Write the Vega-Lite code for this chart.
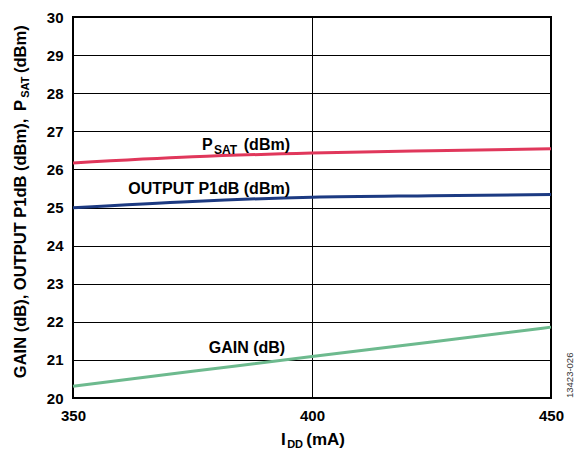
{
  "$schema": "https://vega.github.io/schema/vega-lite/v6.json",
  "width": 478,
  "height": 381,
  "autosize": {"type": "none"},
  "padding": {"left": 73, "top": 17, "right": 27, "bottom": 52},
  "background": "white",
  "config": {
    "view": {"stroke": "black", "strokeWidth": 2},
    "font": "Liberation Sans",
    "axis": {
      "labelFont": "Liberation Sans",
      "labelFontWeight": "bold",
      "labelFontSize": 15,
      "labelColor": "black",
      "domain": false,
      "ticks": false,
      "grid": true,
      "gridColor": "black",
      "gridOpacity": 1,
      "gridWidth": 1,
      "labelFlush": false,
      "labelPadding": 10,
      "title": null
    },
    "text": {"font": "Liberation Sans", "color": "black"}
  },
  "datasets": {
    "curves": [
      {"idd": 350, "value": 26.17, "series": "PSAT"},
      {"idd": 375, "value": 26.33, "series": "PSAT"},
      {"idd": 400, "value": 26.43, "series": "PSAT"},
      {"idd": 425, "value": 26.49, "series": "PSAT"},
      {"idd": 450, "value": 26.54, "series": "PSAT"},
      {"idd": 350, "value": 24.99, "series": "P1dB"},
      {"idd": 375, "value": 25.16, "series": "P1dB"},
      {"idd": 400, "value": 25.27, "series": "P1dB"},
      {"idd": 425, "value": 25.31, "series": "P1dB"},
      {"idd": 450, "value": 25.34, "series": "P1dB"},
      {"idd": 350, "value": 20.31, "series": "GAIN"},
      {"idd": 375, "value": 20.70, "series": "GAIN"},
      {"idd": 400, "value": 21.09, "series": "GAIN"},
      {"idd": 425, "value": 21.47, "series": "GAIN"},
      {"idd": 450, "value": 21.86, "series": "GAIN"}
    ],
    "labels": [
      {"role": "in-left", "text": "P", "x": 377.0, "y": 26.51},
      {"role": "in-sub", "text": "SAT", "x": 379.5, "y": 26.51},
      {"role": "in-right", "text": "(dBm)", "x": 395.4, "y": 26.51},
      {"role": "in-right", "text": "OUTPUT P1dB (dBm)", "x": 395.4, "y": 25.35},
      {"role": "in-left", "text": "GAIN (dB)", "x": 378.4, "y": 21.18},
      {"role": "xt-main", "text": "I", "x": 393.5, "y": 18.77},
      {"role": "xt-sub", "text": "DD", "x": 394.8, "y": 18.77},
      {"role": "xt-main", "text": "(mA)", "x": 398.8, "y": 18.77},
      {"role": "yt-main", "text": "GAIN (dB), OUTPUT P1dB (dBm),", "x": 340.2, "y": 20.52},
      {"role": "yt-main", "text": "P", "x": 340.2, "y": 27.53},
      {"role": "yt-sub", "text": "SAT", "x": 340.2, "y": 27.88},
      {"role": "yt-main", "text": "(dBm)", "x": 340.2, "y": 28.53},
      {"role": "note", "text": "13423-026", "x": 454.6, "y": 20.0}
    ]
  },
  "encoding": {
    "x": {"type": "quantitative", "scale": {"domain": [350, 450], "nice": false, "zero": false},
          "axis": {"values": [350, 400, 450]}},
    "y": {"type": "quantitative", "scale": {"domain": [20, 30], "nice": false, "zero": false},
          "axis": {"values": [20, 21, 22, 23, 24, 25, 26, 27, 28, 29, 30]}}
  },
  "layer": [
    {
      "data": {"name": "curves"},
      "mark": {"type": "line", "strokeWidth": 3, "interpolate": "monotone"},
      "encoding": {
        "x": {"field": "idd", "type": "quantitative"},
        "y": {"field": "value", "type": "quantitative"},
        "color": {"field": "series", "type": "nominal",
                  "scale": {"domain": ["PSAT", "P1dB", "GAIN"], "range": ["#E0375B", "#1C3A82", "#6DBA8E"]},
                  "legend": null}
      }
    },
    {
      "data": {"name": "labels"},
      "transform": [{"filter": "datum.role == 'in-left'"}],
      "mark": {"type": "text", "align": "left", "baseline": "alphabetic", "fontSize": 16, "fontWeight": "bold"},
      "encoding": {"x": {"field": "x", "type": "quantitative"}, "y": {"field": "y", "type": "quantitative"}, "text": {"field": "text"}}
    },
    {
      "data": {"name": "labels"},
      "transform": [{"filter": "datum.role == 'in-right'"}],
      "mark": {"type": "text", "align": "right", "baseline": "alphabetic", "fontSize": 16, "fontWeight": "bold"},
      "encoding": {"x": {"field": "x", "type": "quantitative"}, "y": {"field": "y", "type": "quantitative"}, "text": {"field": "text"}}
    },
    {
      "data": {"name": "labels"},
      "transform": [{"filter": "datum.role == 'in-sub'"}],
      "mark": {"type": "text", "align": "left", "baseline": "alphabetic", "fontSize": 12, "fontWeight": "bold", "dy": 4},
      "encoding": {"x": {"field": "x", "type": "quantitative"}, "y": {"field": "y", "type": "quantitative"}, "text": {"field": "text"}}
    },
    {
      "data": {"name": "labels"},
      "transform": [{"filter": "datum.role == 'xt-main'"}],
      "mark": {"type": "text", "align": "left", "baseline": "alphabetic", "fontSize": 17, "fontWeight": "bold"},
      "encoding": {"x": {"field": "x", "type": "quantitative"}, "y": {"field": "y", "type": "quantitative"}, "text": {"field": "text"}}
    },
    {
      "data": {"name": "labels"},
      "transform": [{"filter": "datum.role == 'xt-sub'"}],
      "mark": {"type": "text", "align": "left", "baseline": "alphabetic", "fontSize": 11, "fontWeight": "bold", "dy": 3},
      "encoding": {"x": {"field": "x", "type": "quantitative"}, "y": {"field": "y", "type": "quantitative"}, "text": {"field": "text"}}
    },
    {
      "data": {"name": "labels"},
      "transform": [{"filter": "datum.role == 'yt-main'"}],
      "mark": {"type": "text", "align": "left", "baseline": "alphabetic", "fontSize": 16.5, "fontWeight": "bold", "angle": 270},
      "encoding": {"x": {"field": "x", "type": "quantitative"}, "y": {"field": "y", "type": "quantitative"}, "text": {"field": "text"}}
    },
    {
      "data": {"name": "labels"},
      "transform": [{"filter": "datum.role == 'yt-sub'"}],
      "mark": {"type": "text", "align": "left", "baseline": "alphabetic", "fontSize": 11, "fontWeight": "bold", "angle": 270, "dy": 3},
      "encoding": {"x": {"field": "x", "type": "quantitative"}, "y": {"field": "y", "type": "quantitative"}, "text": {"field": "text"}}
    },
    {
      "data": {"name": "labels"},
      "transform": [{"filter": "datum.role == 'note'"}],
      "mark": {"type": "text", "align": "left", "baseline": "alphabetic", "fontSize": 9.5, "color": "#333333", "angle": 270},
      "encoding": {"x": {"field": "x", "type": "quantitative"}, "y": {"field": "y", "type": "quantitative"}, "text": {"field": "text"}}
    }
  ]
}
